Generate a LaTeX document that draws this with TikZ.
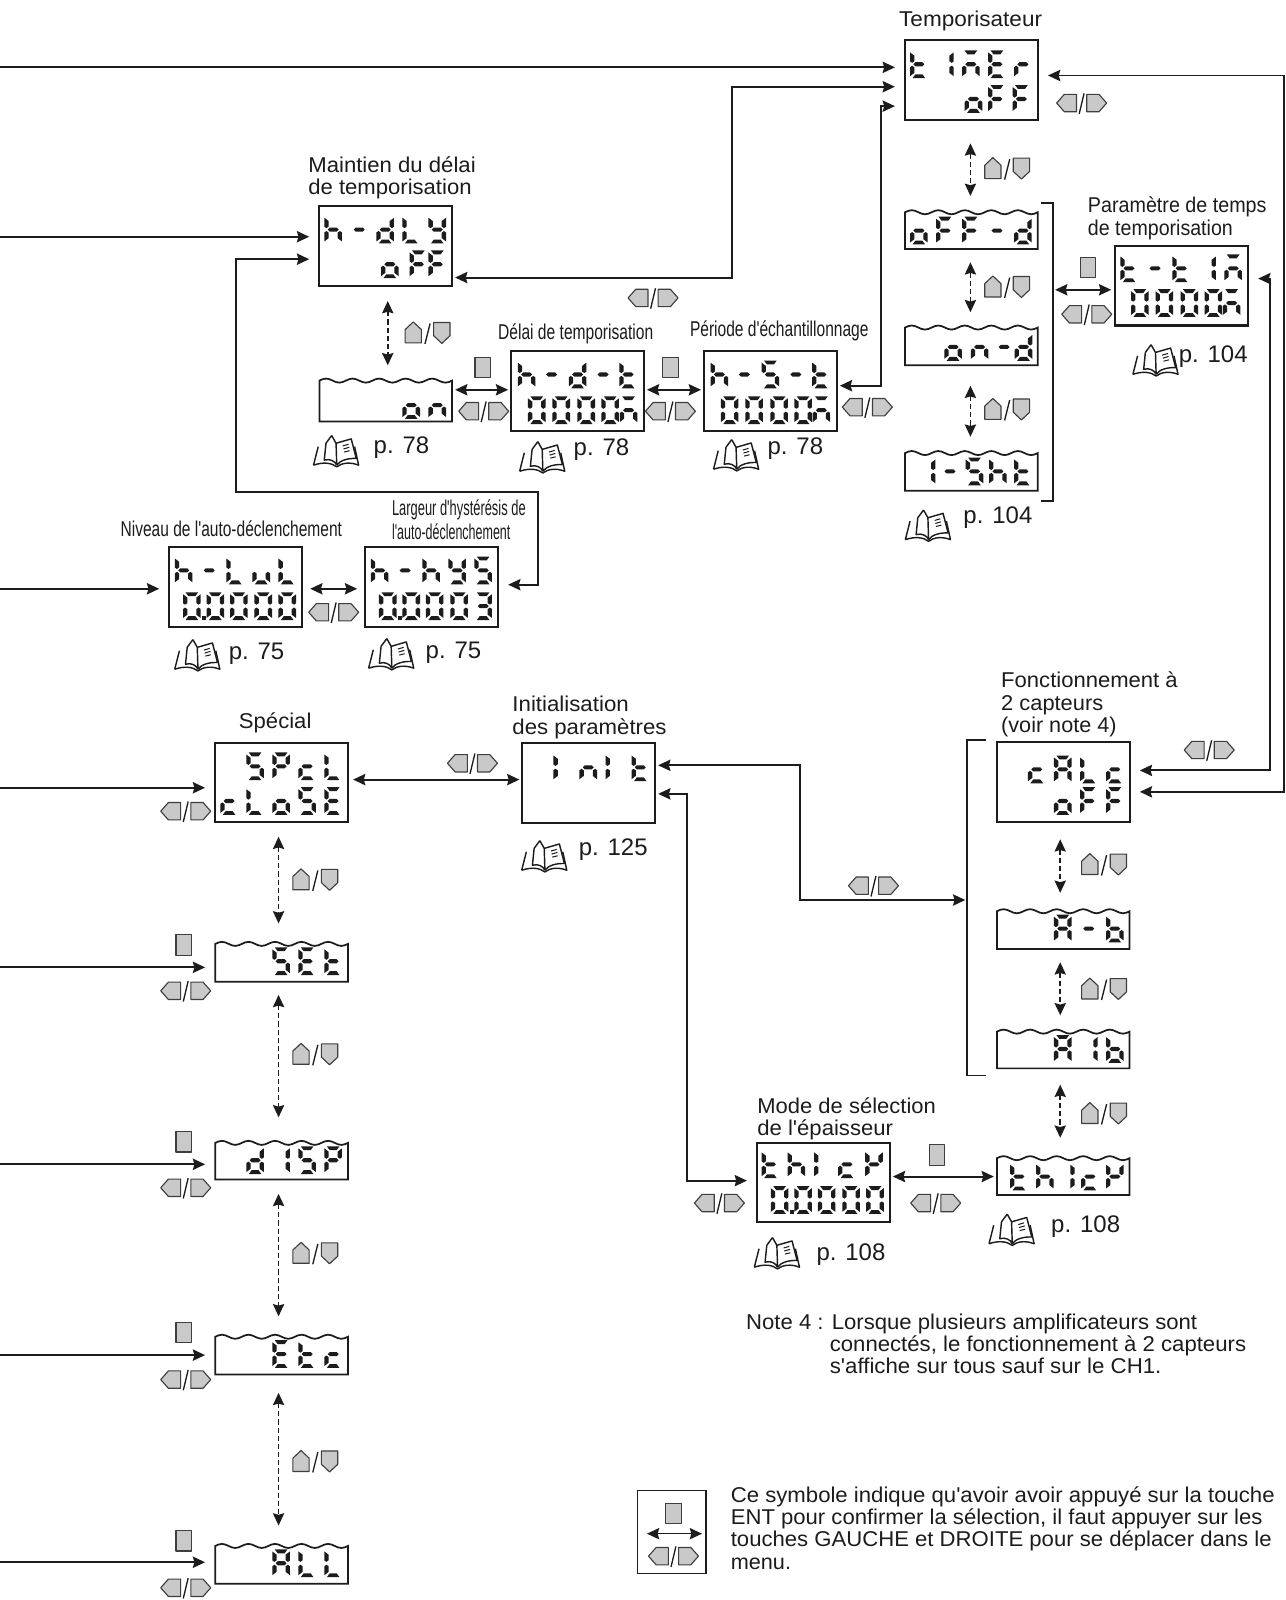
\documentclass[tikz,border=0pt]{standalone}
\usepackage{fontspec}
\usepackage{graphicx}
\setmainfont{Liberation Sans}[Ligatures=TeXOff]
\usetikzlibrary{arrows.meta}
\definecolor{ink}{HTML}{1C1C1C}
\definecolor{keygray}{HTML}{C9C9C9}
% seven-segment parts
\expandafter\def\csname sga\endcsname{(-6.2,-13.6)--(6.2,-13.6)--(3.4,-9.8)--(-3.4,-9.8)--cycle}
\expandafter\def\csname sgd\endcsname{(-6.2,13.6)--(6.2,13.6)--(3.4,9.8)--(-3.4,9.8)--cycle}
\expandafter\def\csname sgg\endcsname{(-5.4,0)--(-3.4,-2)--(3.4,-2)--(5.4,0)--(3.4,2)--(-3.4,2)--cycle}
\expandafter\def\csname sgf\endcsname{(-8.6,-11.6)--(-4.4,-8.4)--(-4.4,-3)--(-6.6,-1.4)--(-8.6,-2.8)--cycle}
\expandafter\def\csname sge\endcsname{(-8.6,11.6)--(-4.4,8.4)--(-4.4,3)--(-6.6,1.4)--(-8.6,2.8)--cycle}
\expandafter\def\csname sgb\endcsname{(8.6,-11.6)--(4.4,-8.4)--(4.4,-3)--(6.6,-1.4)--(8.6,-2.8)--cycle}
\expandafter\def\csname sgc\endcsname{(8.6,11.6)--(4.4,8.4)--(4.4,3)--(6.6,1.4)--(8.6,2.8)--cycle}
\expandafter\def\csname sgp\endcsname{(-2,10)--(2,10)--(2,14)--(-2,14)--cycle}
% glyphs
\def\defglyph#1#2{\expandafter\def\csname gl#1\endcsname{#2}}
\defglyph{t}{d,e,f,g}\defglyph{h}{c,e,f,g}\defglyph{minus}{g}\defglyph{d}{b,c,d,e,g}
\defglyph{L}{d,e,f}\defglyph{Y}{b,c,d,f,g}\defglyph{o}{c,d,e,g}\defglyph{F}{a,e,f,g}
\defglyph{E}{a,d,e,f,g}\defglyph{r}{e,g}\defglyph{one}{b,c}\defglyph{I}{e,f}
\defglyph{M}{a,c,e,g}\defglyph{n}{c,e,g}\defglyph{S}{a,c,d,f,g}\defglyph{P}{a,b,e,f,g}
\defglyph{c}{d,e,g}\defglyph{A}{a,b,c,e,f,g}\defglyph{b}{c,d,e,f,g}\defglyph{u}{c,d,e}
\defglyph{zero}{a,b,c,d,e,f}\defglyph{three}{a,b,c,d,g}\defglyph{K}{b,e,f,g}\defglyph{dot}{p}
\newcommand\lcdglyph[3]{\begin{scope}[shift={(#1,#2)}]
  \edef\gllist{\csname gl#3\endcsname}
  \foreach \s in \gllist {\fill[ink] \csname sg\s\endcsname;}
\end{scope}}
\newcommand\lcdrow[3]{\foreach \g/\o in {#3}{\lcdglyph{#1+\o}{#2}{\g}}}
\newcommand\tw[2]{\resizebox{#1pt}{\height}{#2}}
\newcommand\wbox[4]{%
  \pgfmathsetmacro\wcx{#2+65}\pgfmathsetmacro\wcy{(#3+#4)/2}\pgfmathsetmacro\wh{#4-#3}
  \node[inner sep=0,outer sep=0,minimum width=130pt,minimum height=\wh pt] (#1) at (\wcx,\wcy) {};
  \draw[boxline,line width=1.7pt] (#2,#4) -- (#2,#3+3)
    sin ++(6.5,-2) cos ++(6.5,2) sin ++(6.5,2) cos ++(6.5,-2)
    sin ++(6.5,-2) cos ++(6.5,2) sin ++(6.5,2) cos ++(6.5,-2)
    sin ++(6.5,-2) cos ++(6.5,2) sin ++(6.5,2) cos ++(6.5,-2)
    sin ++(6.5,-2) cos ++(6.5,2) sin ++(6.5,2) cos ++(6.5,-2)
    sin ++(6.5,-2) cos ++(6.5,2) sin ++(6.5,2) cos ++(6.5,-2)
    -- (#2+130,#4) -- cycle;}
\tikzset{
  boxline/.style={draw=ink,line width=2pt,line join=miter},
  lcdbox/.style={boxline,rectangle,inner sep=0,outer sep=0,minimum width=130pt,minimum height=78pt},
  arr/.style={draw=ink,line width=1.9pt,-{Stealth[length=12pt,width=11pt,inset=1.5pt]}},
  dbl/.style={draw=ink,line width=1.9pt,{Stealth[length=12pt,width=11pt,inset=1.5pt]}-{Stealth[length=12pt,width=11pt,inset=1.5pt]}},
  vd/.style={dbl,line width=1.7pt,dash pattern=on 5pt off 3pt},
  brk/.style={draw=ink,line width=1.9pt},
  key/.style={fill=keygray,draw=ink!85,line width=1.1pt,line join=round},
  slash/.style={draw=ink,line width=1.3pt},
  lbl/.style={inner sep=0,anchor=base west,text=ink,font=\fontsize{21}{23}\selectfont},
  pg/.style={lbl,font=\fontsize{23.5}{25}\selectfont},
  lrkeys/.pic={
    \draw[key] (-5,-8.5)--(-5,8.5)--(-17,8.5)--(-24.5,0)--(-17,-8.5)--cycle;
    \draw[key] (5,-8.5)--(5,8.5)--(17,8.5)--(24.5,0)--(17,-8.5)--cycle;
    \draw[slash] (2.4,-9.5)--(-2.4,10.5);},
  udkeys/.pic={
    \draw[key] (-22,10)--(-22,-3)--(-14,-10.5)--(-6,-3)--(-6,10)--cycle;
    \draw[key] (6,-10)--(22,-10)--(22,3)--(14,10.5)--(6,3)--cycle;
    \draw[slash] (2.5,-9)--(-2.5,11);},
  entkey/.pic={\draw[key] (-7.5,-10) rectangle (7.5,10);},
  book/.pic={
    \draw[ink,line width=1.4pt,line join=round]
      (-69,45) -- (-55,-10) (-69,45) .. controls (-40,35) and (-15,38) .. (0,50)
      .. controls (15,38) and (40,35) .. (65,45) -- (53,-10);
    \draw[ink,line width=1.4pt,line join=round]
      (-32,-20) -- (-37,30) .. controls (-20,25) and (-5,33) .. (0,45)
      (-15,-43) -- (-32,-20)
      (-15,-43) -- (-2,-20) -- (43,-33) -- (58,25) .. controls (35,24) and (10,30) .. (0,45)
      (-2,-20) -- (0,45);
    \draw[ink,line width=1pt] (18,-12)--(35,-17) (20,-3)--(37,-8) (22,6)--(38,2);}
}
\begin{document}
\begin{tikzpicture}[x=1pt,y=-1pt]
\useasboundingbox (0,0) rectangle (1260,1568);
\fill[white] (0,0) rectangle (1260,1568);
% full display boxes
\node[lcdbox] (tim) at (952,78.5) {};
\node[lcdbox] (ttm) at (1158,280) {};
\node[lcdbox] (hdly) at (378,241) {};
\node[lcdbox] (hdt) at (566,383) {};
\node[lcdbox] (hst) at (755,383) {};
\node[lcdbox] (hlv) at (231,575.5) {};
\node[lcdbox] (hhy) at (423,575.5) {};
\node[lcdbox] (spc) at (276,767) {};
\node[lcdbox] (ini) at (577,767.5) {};
\node[lcdbox] (cal) at (1042,766.5) {};
\node[lcdbox] (thz) at (807,1159) {};
% wave-topped boxes
\wbox{ofd}{887}{205}{244}
\wbox{ond}{887}{318}{358}
\wbox{sht}{887}{441}{481}
\wbox{onb}{313}{370}{413}
\wbox{set}{211}{922}{962}
\wbox{dsp}{211}{1117}{1156}
\wbox{etc}{211}{1307}{1347}
\wbox{all}{211}{1512}{1552}
\wbox{amb}{977}{890}{930}
\wbox{aib}{977}{1008}{1047}
\wbox{thk}{977}{1132}{1171}
% LCD readouts
\lcdrow{887}{63}{t/13.5,one/39,M/64.5,E/90,r/115.5}
\lcdrow{887}{97}{o/67,F/90,F/114}
\lcdrow{887}{226}{o/13.5,F/39,F/64.5,minus/90,d/115.5}
\lcdrow{887}{340}{o/47,n/73,minus/97,d/116}
\lcdrow{887}{462}{one/21,minus/44,S/68,h/91,t/115.5}
\lcdrow{1093}{263}{t/13.5,minus/39,t/64.5,one/90,M/115.5}
\lcdrow{1093}{297}{zero/24,zero/48,zero/72.5,zero/96,M/114}
\lcdrow{313}{225}{h/13.5,minus/39,d/64.5,L/90,Y/115.5}
\lcdrow{313}{259}{o/69,F/97,F/115.5}
\lcdrow{313}{397}{o/90,n/115.5}
\lcdrow{501}{367}{h/15,minus/39.5,d/65,minus/90,t/114.5}
\lcdrow{501}{402}{zero/25,zero/49,zero/73.5,zero/97,M/115}
\lcdrow{690}{367}{h/15,minus/39.5,S/65,minus/90,t/114.5}
\lcdrow{690}{402}{zero/25,zero/49,zero/73.5,zero/97,M/115}
\lcdrow{166}{559}{h/14,minus/39,L/64.5,u/90,L/115.5}
\lcdrow{166}{594}{zero/22,dot/34,zero/45,zero/68,zero/92,zero/115.5}
\lcdrow{358}{559}{h/14,minus/39,h/64.5,Y/90,S/115.5}
\lcdrow{358}{594}{zero/22,dot/34,zero/45,zero/68,zero/92,three/115.5}
\lcdrow{211}{751}{S/39,P/64.5,c/90,L/115.5}
\lcdrow{211}{785}{c/13.5,L/39,o/64.5,S/90,E/115.5}
\lcdrow{211}{942}{S/64.5,E/90,t/115.5}
\lcdrow{211}{1137}{d/39,one/64.5,S/90,P/115.5}
\lcdrow{211}{1327}{E/64.5,t/90,c/115.5}
\lcdrow{211}{1532}{A/64.5,L/90,L/115.5}
\lcdrow{512}{752}{I/39,n/64.5,I/90,t/115.5}
\lcdrow{977}{754}{c/39,A/64.5,L/90,c/115.5}
\lcdrow{977}{785}{o/64.5,F/90,F/115.5}
\lcdrow{977}{910}{A/64.5,minus/90,b/115.5}
\lcdrow{977}{1028}{A/64.5,one/90,b/115.5}
\lcdrow{977}{1153}{t/21.5,h/47,I/80.5,c/91,K/115.5}
\lcdrow{742}{1141}{t/13,h/38.5,I/64.5,c/88,K/114.5}
\lcdrow{742}{1176}{zero/22,dot/34,zero/45,zero/68,zero/92,zero/115.5}
% connectors from the left edge
\coordinate (e1) at (0,66);
\coordinate (e2) at (0,232);
\coordinate (e3) at (0,577);
\coordinate (e4) at (0,772);
\coordinate (e5) at (0,948);
\coordinate (e6) at (0,1141);
\coordinate (e7) at (0,1328);
\coordinate (e8) at (0,1531);
\draw[arr,shorten >=10pt] (e1) -- (tim.west |- e1);
\draw[arr,shorten >=10pt] (e2) -- (hdly.west |- e2);
\draw[arr,shorten >=10pt] (e3) -- (hlv.west |- e3);
\draw[arr,shorten >=10pt] (e4) -- (spc.west |- e4);
\draw[arr,shorten >=10pt] (e5) -- (set.west |- e5);
\draw[arr,shorten >=10pt] (e6) -- (dsp.west |- e6);
\draw[arr,shorten >=10pt] (e7) -- (etc.west |- e7);
\draw[arr,shorten >=10pt] (e8) -- (all.west |- e8);
% routed connectors
\draw[dbl,shorten <=3pt,shorten >=10pt] (hdly.east |- 0,272) -| (717,85) -- (tim.west |- 0,85);
\draw[dbl,shorten <=3pt,shorten >=10pt] (hst.east |- 0,378) -| (863,104) -- (tim.west |- 0,104);
\draw[dbl,shorten <=10pt,shorten >=10pt] (tim.east |- 0,74) -- (1258,74) -- (1258,776) -- (cal.east |- 0,776);
\draw[dbl,shorten <=10pt,shorten >=10pt] (ttm.east |- 0,273) -- (1245,273) -- (1245,755) -- (cal.east |- 0,755);
\draw[dbl,shorten <=10pt,shorten >=10pt] (hdly.west |- 0,254) -| (231,482) -| (527,573) -- (hhy.east |- 0,573);
\draw[dbl,shorten <=3pt,shorten >=1pt] (ini.east |- 0,750) -| (784,882) -- (947,882);
\draw[dbl,shorten <=3pt,shorten >=10pt] (ini.east |- 0,778) -| (673,1157) -- (thz.west |- 0,1157);
% straight two-way links
\draw[dbl,shorten <=8pt,shorten >=8pt] (hlv.east |- 0,577) -- (hhy.west |- 0,577);
\draw[dbl,shorten <=3pt,shorten >=3pt] (onb.east |- 0,382) -- (hdt.west |- 0,382);
\draw[dbl,shorten <=3pt,shorten >=3pt] (hdt.east |- 0,382) -- (hst.west |- 0,382);
\draw[dbl,shorten <=5pt,shorten >=3pt] (spc.east |- 0,764) -- (ini.west |- 0,764);
\draw[dbl,shorten <=3pt,shorten >=3pt] (thz.east |- 0,1153) -- (thk.west |- 0,1153);
\draw[dbl,shorten >=4pt] (1034,284) -- (ttm.west |- 0,284);
% dashed vertical links
\draw[vd,shorten <=23pt,shorten >=13pt] (951,0 |- tim.south) -- (951,0 |- ofd.north);
\draw[vd,shorten <=13pt,shorten >=12pt] (951,0 |- ofd.south) -- (951,0 |- ond.north);
\draw[vd,shorten <=20pt,shorten >=13pt] (951,0 |- ond.south) -- (951,0 |- sht.north);
\draw[vd,shorten <=15pt,shorten >=12pt] (380,0 |- hdly.south) -- (380,0 |- onb.north);
\draw[vd,shorten <=14pt,shorten >=17pt] (273,0 |- spc.south) -- (273,0 |- set.north);
\draw[vd,shorten <=13pt,shorten >=22pt] (273,0 |- set.south) -- (273,0 |- dsp.north);
\draw[vd,shorten <=14pt,shorten >=17pt] (273,0 |- dsp.south) -- (273,0 |- etc.north);
\draw[vd,shorten <=18pt,shorten >=17pt] (273,0 |- etc.south) -- (273,0 |- all.north);
\draw[vd,shorten <=17pt,shorten >=15pt] (1039,0 |- cal.south) -- (1039,0 |- amb.north);
\draw[vd,shorten <=13pt,shorten >=13pt] (1039,0 |- amb.south) -- (1039,0 |- aib.north);
\draw[vd,shorten <=16pt,shorten >=17pt] (1039,0 |- aib.south) -- (1039,0 |- thk.north);
% brackets
\draw[brk] (1020,199) -- (1032,199) -- (1032,491) -- (1020,491);
\draw[brk] (966,725) -- (948,725) -- (948,1054) -- (966,1054);
% legend frame
\node[draw=ink,line width=1.3pt,inner sep=0,minimum width=67pt,minimum height=81pt] (leg) at (658.5,1501.5) {};
\coordinate (legL) at (634,1503);
\coordinate (legR) at (688,1503);
\draw[dbl,line width=1.5pt] (legL) -- (legR);
% keys
\foreach \x/\y in {1060/101,640/292,474/403,657/403,850/399,1065/308,327/600,182/795,182/971,182/1164,182/1352,182/1556,463/748,856/868,1185/735,705/1179,917/1179,660/1525}
  {\pic at (\x,\y) {lrkeys};}
\foreach \x/\y in {987/165,987/281,987/401,419/326,309/862,309/1033,309/1228,309/1432,1082/847,1082/969,1082/1091}
  {\pic at (\x,\y) {udkeys};}
\foreach \x/\y in {473/360,657/360,1066/262,180/926,180/1119,180/1306,180/1510,918/1132,660/1483}
  {\pic at (\x,\y) {entkey};}
\foreach \x/\y in {330/441,532/447,722/445,1133/352,910/514,194/641,384/640,534/838,762/1227,992/1204}
  {\pic[scale=.33] at (\x,\y) {book};}
% labels
\node[lbl] (a1) at (881,26) {\tw{140}{Temporisateur}};
\node[lbl] (a2) at (302,169) {\tw{164}{Maintien du délai}};
\node[lbl] (a3) at (302,191) {\tw{160}{de temporisation}};
\node[lbl] (a4) at (1066,208) {\tw{175}{Paramètre de temps}};
\node[lbl] (a5) at (1066,231) {\tw{142}{de temporisation}};
\node[lbl] (a6) at (488,333) {\tw{152}{Délai de temporisation}};
\node[lbl] (a7) at (676,330) {\tw{175}{Période d'échantillonnage}};
\node[lbl] (a8) at (118,526) {\tw{217}{Niveau de l'auto-déclenchement}};
\node[lbl] (a9) at (384,505) {\tw{131}{Largeur d'hystérésis de}};
\node[lbl] (a10) at (384,529) {\tw{116}{l'auto-déclenchement}};
\node[lbl] (a11) at (234,714) {\tw{71}{Spécial}};
\node[lbl] (a12) at (502,697) {\tw{114}{Initialisation}};
\node[lbl] (a13) at (502,720) {\tw{151}{des paramètres}};
\node[lbl] (a14) at (981,674) {\tw{173}{Fonctionnement à}};
\node[lbl] (a15) at (981,696) {\tw{100}{2 capteurs}};
\node[lbl] (a16) at (981,718) {\tw{113}{(voir note 4)}};
\node[lbl] (a17) at (742,1091) {\tw{175}{Mode de sélection}};
\node[lbl] (a18) at (742,1113) {\tw{133}{de l'épaisseur}};
\node[pg] (p1) at (366,444) {p. 78};
\node[pg] (p2) at (562,446) {p. 78};
\node[pg] (p3) at (752,445) {p. 78};
\node[pg] (p4) at (1155,355) {p. 104};
\node[pg] (p5) at (944,513) {p. 104};
\node[pg] (p6) at (224,646) {p. 75};
\node[pg] (p7) at (417,645) {p. 75};
\node[pg] (p8) at (567,838) {p. 125};
\node[pg] (p9) at (800,1235) {p. 108};
\node[pg] (p10) at (1030,1208) {p. 108};
\node[lbl] (n1) at (731,1303) {\tw{442}{Note 4 : Lorsque plusieurs amplificateurs sont}};
\node[lbl] (n2) at (813,1324) {\tw{408}{connectés, le fonctionnement à 2 capteurs}};
\node[lbl] (n3) at (813,1346) {\tw{325}{s'affiche sur tous sauf sur le CH1.}};
\node[lbl] (l1) at (716,1472) {\tw{533}{Ce symbole indique qu'avoir avoir appuyé sur la touche}};
\node[lbl] (l2) at (716,1494) {\tw{521}{ENT pour confirmer la sélection, il faut appuyer sur les}};
\node[lbl] (l3) at (716,1516) {\tw{530}{touches GAUCHE et DROITE pour se déplacer dans le}};
\node[lbl] (l4) at (716,1538) {\tw{59}{menu.}};
\end{tikzpicture}
\end{document}
